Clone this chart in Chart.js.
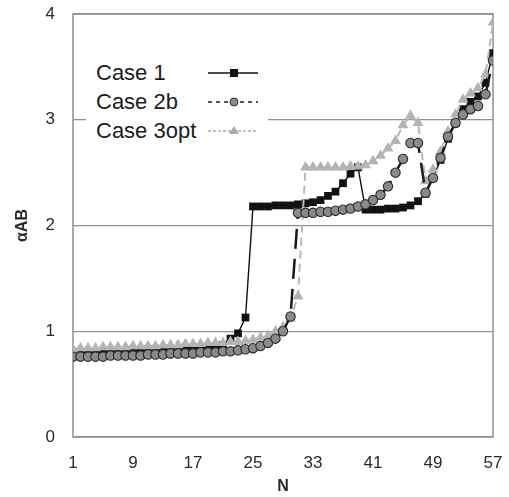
<!DOCTYPE html>
<html>
<head>
<meta charset="utf-8">
<script src="https://cdn.jsdelivr.net/npm/chart.js@4/dist/chart.umd.min.js"></script>
<style>
  html, body { margin: 0; padding: 0; background: #fff; }
  #wrap { position: relative; width: 509px; height: 497px; font-family: "Liberation Sans", Arial, sans-serif; }
  #legend { position: absolute; left: 86px; top: 54px; width: 182px; height: 92px; background: #fff; }
  .row { position: absolute; left: 0; height: 24px; width: 182px; }
  .row span { position: absolute; left: 10px; top: 0; font-size: 22px; line-height: 24px; color: #1c1c1c; }
  .row svg { position: absolute; left: 122px; top: 5px; }
</style>
</head>
<body>
<div id="wrap">
  <canvas id="alphaChart" width="509" height="497"></canvas>
  <div id="legend">
    <div class="row" style="top:7px">
      <span>Case 1</span>
      <svg width="50" height="14"><line x1="0" y1="7" x2="50" y2="7" stroke="#111" stroke-width="1.6"/><rect x="22" y="3" width="8" height="8" fill="#111"/></svg>
    </div>
    <div class="row" style="top:36px">
      <span>Case 2b</span>
      <svg width="50" height="14"><line x1="0" y1="7" x2="50" y2="7" stroke="#222" stroke-width="1.6" stroke-dasharray="4 4"/><circle cx="26" cy="7" r="4" fill="#8a8a8a" stroke="#333" stroke-width="1"/></svg>
    </div>
    <div class="row" style="top:65px">
      <span>Case 3opt</span>
      <svg width="50" height="14"><line x1="0" y1="7" x2="50" y2="7" stroke="#aaa" stroke-width="1.5" stroke-dasharray="3 2"/><polygon points="26,2 31,10 21,10" fill="#aaa"/></svg>
    </div>
  </div>
</div>
<script>
/* ===== DATA ===== */
const nValues = [1, 2, 3, 4, 5, 6, 7, 8, 9, 10, 11, 12, 13, 14, 15, 16, 17, 18, 19, 20,
  21, 22, 23, 24, 25, 26, 27, 28, 29, 30, 31, 32, 33, 34, 35, 36, 37, 38, 39, 40,
  41, 42, 43, 44, 45, 46, 47, 48, 49, 50, 51, 52, 53, 54, 55, 56, 57];
const nTicks = [1, 9, 17, 25, 33, 41, 49, 57];
const alphaTicks = [0, 1, 2, 3, 4];

const case1 = [0.80, 0.80, 0.80, 0.80, 0.81, 0.81, 0.81, 0.81, 0.82, 0.82,
  0.82, 0.82, 0.83, 0.83, 0.83, 0.84, 0.84, 0.84, 0.85, 0.85,
  0.87, 0.93, 0.98, 1.13,
  2.18, 2.18, 2.18, 2.19, 2.19, 2.19, 2.20, 2.21,
  2.22, 2.24, 2.28, 2.32, 2.40, 2.49, 2.55,
  2.15, 2.15, 2.15, 2.16, 2.16, 2.17, 2.19, 2.23,
  2.30, 2.45, 2.62, 2.82, 2.97, 3.10, 3.17, 3.22, 3.35, 3.63];

const case2b = [0.76, 0.76, 0.76, 0.76, 0.76, 0.77, 0.77, 0.77, 0.77, 0.77,
  0.78, 0.78, 0.78, 0.79, 0.79, 0.79, 0.79, 0.80, 0.80, 0.80,
  0.81, 0.81, 0.82, 0.83, 0.84, 0.86, 0.89, 0.93, 1.00, 1.14,
  2.12, 2.12, 2.12, 2.13, 2.13, 2.14, 2.15, 2.16, 2.18, 2.20,
  2.24, 2.29, 2.37, 2.50, 2.63, 2.78, 2.78,
  2.31, 2.45, 2.64, 2.84, 2.97, 3.05, 3.10, 3.13, 3.24, 3.56];

const case3opt = [0.83, 0.84, 0.84, 0.84, 0.85, 0.85, 0.85, 0.85, 0.86, 0.86,
  0.86, 0.86, 0.87, 0.87, 0.87, 0.88, 0.88, 0.88, 0.89, 0.89,
  0.89, 0.90, 0.90, 0.91, 0.92, 0.94, 0.96, 1.00, 1.04, 1.12, 1.33,
  2.55, 2.55, 2.55, 2.55, 2.55, 2.55, 2.56, 2.56, 2.57,
  2.61, 2.66, 2.73, 2.80, 2.95, 3.04, 2.97,
  2.42, 2.53, 2.70, 2.89, 3.05, 3.19, 3.25, 3.30, 3.43, 3.92];

/* ===== STYLE ===== */
const FONT = '"Liberation Sans", Arial, sans-serif';
const TEXT = "#2a2a2a";
const GRID = "#8f8f8f";

// grey frame round the plot area
const plotFrame = {
  id: "plotFrame",
  beforeDatasetsDraw(chart) {
    const { ctx, chartArea: a } = chart;
    ctx.save();
    ctx.strokeStyle = GRID;
    ctx.lineWidth = 1.5;
    ctx.strokeRect(a.left, a.top, a.right - a.left, a.bottom - a.top);
    ctx.restore();
  },
};

/* ===== CHART ===== */
// order: lower number is drawn on top (circles > triangles > squares)
new Chart(document.getElementById("alphaChart"), {
  type: "line",
  data: {
    labels: nValues,
    datasets: [
      {
        label: "Case 1",
        data: case1,
        order: 2,
        borderColor: "#111",
        borderWidth: 1.4,
        pointStyle: "rect",
        pointRadius: 5.5,
        pointBackgroundColor: "#111",
        pointBorderColor: "#111",
        pointBorderWidth: 0,
      },
      {
        label: "Case 2b",
        data: case2b,
        order: 0,
        borderColor: "#1a1a1a",
        borderWidth: 2.5,
        borderDash: [20, 10],
        pointStyle: "circle",
        pointRadius: 4.7,
        pointBackgroundColor: "#8a8a8a",
        pointBorderColor: "#2b2b2b",
        pointBorderWidth: 1.1,
      },
      {
        label: "Case 3opt",
        data: case3opt,
        order: 1,
        borderColor: "#b8b8b8",
        borderWidth: 2,
        borderDash: [8, 5],
        pointStyle: "triangle",
        pointRadius: 6.3,
        pointBackgroundColor: "#b3b3b3",
        pointBorderColor: "#b3b3b3",
        pointBorderWidth: 0,
      },
    ],
  },
  options: {
    responsive: false,
    animation: false,
    devicePixelRatio: 1,
    layout: { padding: { top: 14, right: 16, left: 0, bottom: 0 } },
    plugins: { legend: { display: false }, tooltip: { enabled: false } },
    elements: { line: { tension: 0 } },
    scales: {
      x: {
        type: "linear",
        min: 1,
        max: 57,
        afterBuildTicks: axis => { axis.ticks = nTicks.map(v => ({ value: v })); },
        afterFit: axis => {
          axis.height = 60;
          axis.paddingLeft = 0;
          axis.paddingRight = 0;
        },
        grid: { display: false, drawTicks: false },
        border: { display: false },
        ticks: { padding: 16, color: TEXT, font: { family: FONT, size: 17 } },
        title: {
          display: true,
          text: "N",
          color: TEXT,
          padding: { top: 0, bottom: 1 },
          font: { family: FONT, size: 16, weight: "bold" },
        },
      },
      y: {
        min: 0,
        max: 4,
        afterBuildTicks: axis => { axis.ticks = alphaTicks.map(v => ({ value: v })); },
        afterFit: axis => {
          axis.width = 73;
          axis.paddingTop = 0;
          axis.paddingBottom = 0;
        },
        grid: { color: GRID, lineWidth: 1.2, drawTicks: false },
        border: { display: false },
        ticks: { padding: 18, color: TEXT, font: { family: FONT, size: 17 } },
        title: {
          display: true,
          text: "αAB",
          color: TEXT,
          padding: { top: 13, bottom: 0 },
          font: { family: FONT, size: 16, weight: "bold" },
        },
      },
    },
  },
  plugins: [plotFrame],
});
</script>
</body>
</html>
